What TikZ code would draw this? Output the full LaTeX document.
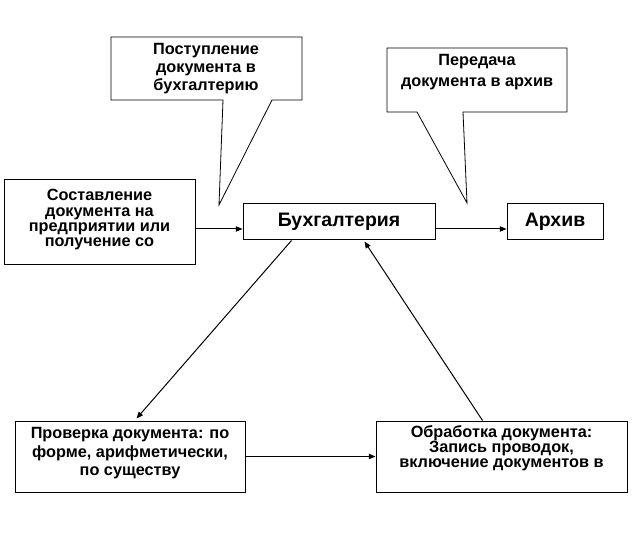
\documentclass[tikz,border=0pt]{standalone}
\usepackage{fontspec}
\setmainfont{Liberation Sans}
\usetikzlibrary{arrows.meta,calc}
\begin{document}
\begin{tikzpicture}[x=0.75pt,y=-0.75pt,
  box/.style={draw=black,line width=0.75pt,fill=white,inner sep=0pt},
  callout/.style={draw=black,line width=0.6pt,fill=white,line join=miter},
  txt/.style={font=\bfseries\fontsize{12.2}{#1}\selectfont,align=center,inner sep=0pt},
  big/.style={font=\bfseries\fontsize{14.6}{16}\selectfont,inner sep=0pt},
  arr/.style={line width=0.75pt,-{Triangle[length=5pt,width=4pt]}}]
\useasboundingbox[fill=white] (0,0) rectangle (639,552);

% callouts
\coordinate (tip1) at (219,205);
\coordinate (tip2) at (467,203);
\draw[callout] (111,37) -- (302,37) -- (302,100) -- (272,100) -- (tip1) -- (223,100) -- (111,100) -- cycle;
\draw[callout] (387,48) -- (567,48) -- (567,112) -- (463,112) -- (tip2) -- (417,112) -- (387,112) -- cycle;
\node[txt=13.5pt] (cb1t) at (206,68.5) {Поступление\\документа в\\бухгалтерию};
\node[txt=15.75pt] (cb2t) at (477,72.5) {Передача\\документа в архив};

% boxes
\node[box,minimum width=143.25pt,minimum height=63.75pt] (src) at (99.5,222.5) {};
\node[txt=11.5pt] (srct) at (99.5,220) {Составление\\документа на\\предприятии или\\получение со};
\node[box,minimum width=144pt,minimum height=27pt] (buh) at (339,222) {};
\node[big] (buht) at (339,222) {Бухгалтерия};
\node[box,minimum width=72pt,minimum height=27pt] (arch) at (555,222) {};
\node[big] (archt) at (555,222) {Архив};
\node[box,minimum width=172.5pt,minimum height=53.25pt] (prov) at (130,456.5) {};
\node[txt=13.9pt] (provt) at (130,453.5) {Проверка документа: по\\форме, арифметически,\\по существу};
\node[box,minimum width=188.25pt,minimum height=53.25pt] (obr) at (501.5,456.5) {};
\node[txt=11.25pt] (obrt) at (501.5,448) {Обработка документа:\\Запись проводок,\\включение документов в};

% connectors
\coordinate (yrow) at (0,229);
\draw[arr] (src.east |- yrow) -- (buh.west |- yrow);
\draw[arr] (buh.east |- yrow) -- (arch.west |- yrow);
\draw[arr] ($(buh.south west)+(49,0)$) -- ($(prov.north west)+(122,-2)$);
\draw[arr] ($(obr.north west)+(107,0)$) -- ($(buh.south west)+(122,1)$);
\draw[arr] (prov.east) -- (obr.west);
\end{tikzpicture}
\end{document}
